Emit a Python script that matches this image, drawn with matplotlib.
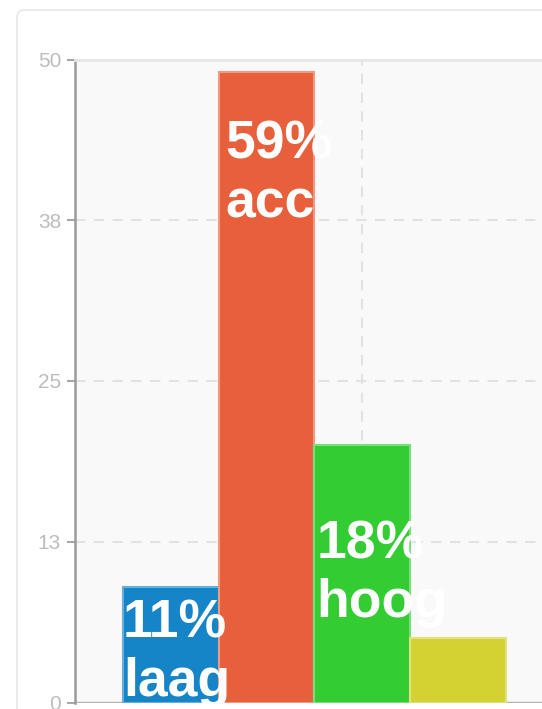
import matplotlib
matplotlib.use("Agg")
import matplotlib.pyplot as plt
from matplotlib.patches import FancyBboxPatch
import numpy as np

W, H = 542, 709

# data
values = [9, 49, 20, 5, 0]
bar_labels = ["11%\nlaag", "59%\nacc", "18%\nhoog", "", ""]
tick_vals = [0, 12.5, 25, 37.5, 50]
tick_text = ["0", "13", "25", "38", "50"]

colors = ["#1685c8", "#e8603b", "#33cc33", "#d4d133", "#9fd49f"]
label_y = [0.5, 37.7, 6.65, 0, 0]     # baseline of last label line, data units
label_dx = [0.0, 0.07, 0.02, 0, 0]    # shift from bar left edge, bar widths

fig = plt.figure(figsize=(W / 100, H / 100), dpi=100)
fig.patch.set_facecolor("white")

# card frame
card = FancyBboxPatch((17 / W, -0.1), 1.2, (H - 10) / H + 0.1,
                      boxstyle="round,pad=0,rounding_size=0.012",
                      transform=fig.transFigure, facecolor="white",
                      edgecolor="#ebebeb", lw=1.5, zorder=-5)
fig.add_artist(card)

x0 = 75 / W
y0 = (H - 702.5) / H
ax = fig.add_axes([x0, y0, (649.6 - 75) / W, 643 / H])
ax.set_zorder(2)
ax.set_facecolor("#f9f9f9")
ax.set_xlim(-1, 5)
ax.set_ylim(0, 50)

x = np.arange(len(values))
for xi, v, c in zip(x, values, colors):
    if v <= 0:
        continue
    rgb = np.array(matplotlib.colors.to_rgb(c))
    light = rgb + (1 - rgb) * 0.35
    ax.bar(xi, v, width=1.0, color=c, edgecolor=light, linewidth=1.5, zorder=3)

for xi, lab, ly, dx in zip(x, bar_labels, label_y, label_dx):
    if not lab:
        continue
    ax.text(xi - 0.5 + dx, ly, lab, color="white", fontsize=38.5,
            fontweight="bold", family="Liberation Sans", ha="left",
            va="baseline", linespacing=1.23, zorder=5, clip_on=False)

# grid
for tv in tick_vals[1:-1]:
    ax.axhline(tv, color="#e2e2e2", lw=1.5, ls=(0, (5, 4)), zorder=1)
ax.axvline(2.0, color="#e2e2e2", lw=1.5, ls=(0, (5, 4)), zorder=1)

for s in ["right", "bottom"]:
    ax.spines[s].set_visible(False)
ax.spines["top"].set_color("#e6e6e6")
ax.spines["top"].set_linewidth(2)
ax.spines["left"].set_color("#9a9a9a")
ax.spines["left"].set_linewidth(1.8)
ax.axhline(0, color="#b4b4b4", lw=2.5, zorder=2)

ax.set_xticks([])
ax.set_yticks(tick_vals)
ax.set_yticklabels(tick_text, family="Liberation Sans", fontsize=15,
                   color="#bdbdbd")
ax.tick_params(axis="y", length=6, width=1.5, color="#a8a8a8", pad=4)

fig.savefig("out.png", dpi=100, facecolor="white")
